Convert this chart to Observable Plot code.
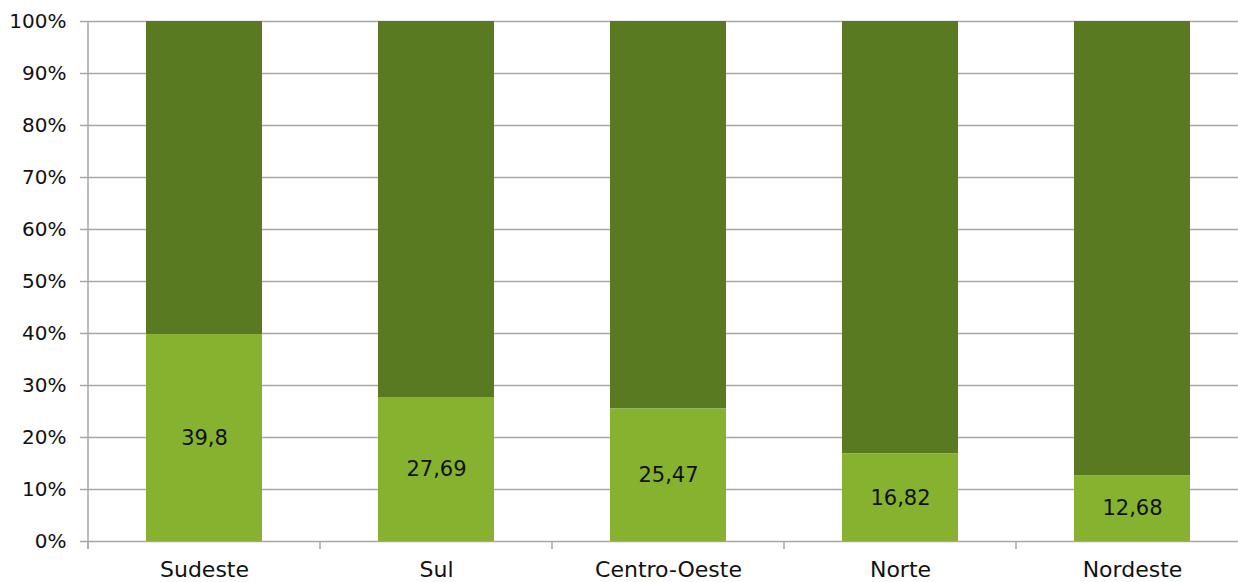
<!DOCTYPE html>
<html><head><meta charset="utf-8">
<script src="https://cdn.jsdelivr.net/npm/d3@7"></script>
<script src="https://cdn.jsdelivr.net/npm/@observablehq/plot@0.6"></script>
<style>body{margin:0;overflow:hidden;background:#fff}</style>
</head><body><div id="chart"></div>
<script>
const regions = ["Sudeste", "Sul", "Centro-Oeste", "Norte", "Nordeste"];
const values = [39.8, 27.69, 25.47, 16.82, 12.68];
const yTicks = [0, 10, 20, 30, 40, 50, 60, 70, 80, 90, 100];

const lower = regions.map((r, i) => ({region: r, y1: 0, y2: values[i], label: String(values[i]).replace(".", ",")}));
const upper = regions.map((r, i) => ({region: r, y1: values[i], y2: 100}));
const font = "'Century Gothic', 'DejaVu Sans', sans-serif";
const grid = "#a6a6a6";

const chart = Plot.plot({
  width: 1238, height: 582,
  marginTop: 21, marginBottom: 41, marginLeft: 88, marginRight: 0,
  style: {fontFamily: font, fontSize: "20px", color: "#111", background: "#fff"},
  x: {domain: regions, range: [88, 1248], paddingInner: 0.5, paddingOuter: 0.25, axis: null},
  y: {domain: [0, 100], axis: null},
  marks: [
    Plot.gridY(yTicks, {stroke: grid, strokeOpacity: 1, strokeWidth: 1.5}),
    Plot.axisY(yTicks, {tickSize: 8, tickPadding: 14, stroke: grid, strokeWidth: 1.5, tickFormat: d => d + "%", fontSize: 20, fill: "#111"}),
    Plot.rectY(upper, {x: "region", y1: "y1", y2: "y2", fill: "#5a7a22"}),
    Plot.rectY(lower, {x: "region", y1: "y1", y2: "y2", fill: "#86b230"}),
    Plot.text(lower, {x: "region", y: d => d.y2 / 2, text: "label", fontSize: 21, fill: "#111"}),
    Plot.text(regions, {x: d => d, y: 0, dy: 28, text: d => d, fontSize: 22, fill: "#111"})
  ]
});
document.getElementById("chart").appendChild(chart);

// axis line and category separator ticks, positioned via the chart's scales
const svg = d3.select(chart);
const xs = chart.scale("x"), ys = chart.scale("y");
const y0 = ys.apply(0), y100 = ys.apply(100);
svg.append("line").attr("x1", xs.range[0]).attr("x2", xs.range[0]).attr("y1", y100).attr("y2", y0 + 8).attr("stroke", grid).attr("stroke-width", 1.5);
const step = (xs.range[1] - xs.range[0]) / regions.length;
for (let i = 0; i <= regions.length; i++) {
  const x = xs.range[0] + i * step;
  svg.append("line").attr("x1", x).attr("x2", x).attr("y1", y0).attr("y2", y0 + 8).attr("stroke", grid).attr("stroke-width", 1.5);
}
</script></body></html>
